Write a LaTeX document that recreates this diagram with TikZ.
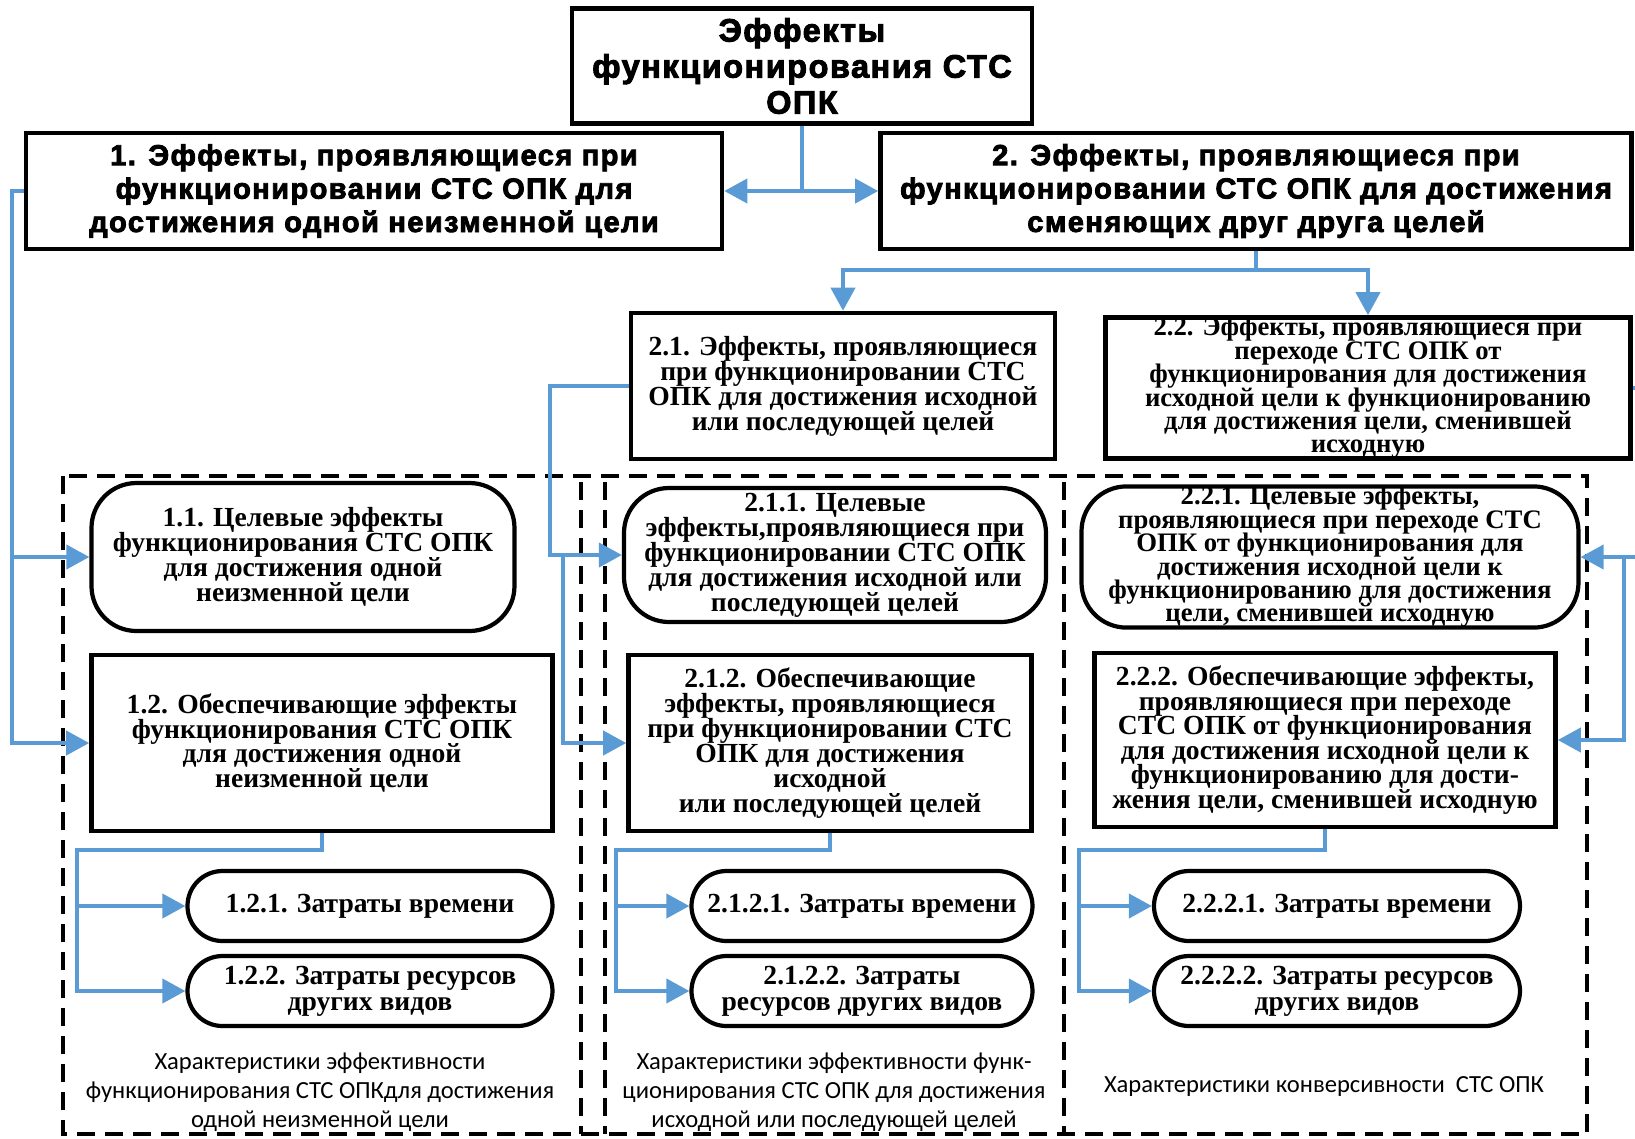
\documentclass[tikz,border=0pt]{standalone}
\usepackage{fontspec}
\setmainfont{Liberation Serif}
\newfontfamily\heavyfont{Liberation Sans}[UprightFont=* Bold, UprightFeatures={FakeBold=3}, LetterSpace=5]
\newfontfamily\capfont{Carlito}
\usepackage{tikz}
\usetikzlibrary{shapes.geometric, arrows, arrows.meta, positioning}
\definecolor{effblue}{RGB}{91,155,213}
\lineskiplimit=-50pt
\tikzstyle{headbox} = [rectangle, draw=black, fill=white, line width=2.6pt, align=center, inner sep=0pt, font=\heavyfont\fontsize{16.5}{19}\selectfont]
\tikzstyle{effbox} = [rectangle, draw=black, fill=white, line width=2.6pt, align=center, inner sep=0pt, font=\bfseries\fontsize{15.7}{14.2}\selectfont]
\tikzstyle{goalbox} = [rectangle, rounded corners=0.9cm, draw=black, fill=white, line width=2.4pt, align=center, inner sep=0pt, font=\bfseries\fontsize{15.7}{14.2}\selectfont]
\tikzstyle{costbox} = [rectangle, rounded corners=0.7cm, draw=black, fill=white, line width=2.4pt, align=center, inner sep=0pt, minimum height=1.4cm, font=\bfseries\fontsize{15.7}{14.6}\selectfont]
\tikzstyle{caption} = [align=center, inner sep=0pt, font=\capfont\fontsize{14}{16.5}\selectfont]
\tikzstyle{frame} = [line width=1.8pt, dash pattern=on 0.36cm off 0.2cm]
\tikzstyle{arrow} = [line width=2.3pt, draw=effblue, -{Triangle[length=0.46cm, width=0.48cm]}]

\begin{document}
\begin{tikzpicture}[node distance=2cm, auto]

\useasboundingbox (-16.04,1.32) rectangle (16.66,-21.44);

\node (top)     [headbox, minimum width=9.2cm, minimum height=2.3cm, font=\heavyfont\fontsize{18.4}{20.5}\selectfont] {Эффекты\\функционирования СТС\\ОПК};
\node (eff1)    [headbox, below of=top, xshift=-8.56cm, yshift=-0.5cm, minimum width=13.92cm, minimum height=2.32cm] {1. Эффекты, проявляющиеся при\\функционировании СТС ОПК для\\достижения одной неизменной цели};
\node (eff2)    [headbox, below of=top, xshift=9.08cm, yshift=-0.5cm, minimum width=15.02cm, minimum height=2.32cm] {2. Эффекты, проявляющиеся при\\функционировании СТС ОПК для достижения\\сменяющих друг друга целей};
\node (eff21)   [effbox, below of=eff2, xshift=-8.26cm, yshift=-1.9cm, minimum width=8.48cm, minimum height=2.92cm] {2.1. Эффекты, проявляющиеся\\при функционировании СТС\\ОПК для достижения исходной\\или последующей целей};
\node (eff22)   [effbox, below of=eff2, xshift=2.24cm, yshift=-1.94cm, minimum width=10.5cm, minimum height=2.82cm, font=\bfseries\fontsize{15.2}{13.3}\selectfont] {2.2. Эффекты, проявляющиеся при\\переходе СТС ОПК от\\функционирования для достижения\\исходной цели к функционированию\\для достижения цели, сменившей\\исходную};

% column 1
\node (eff11)   [goalbox, below of=eff1, xshift=-1.42cm, yshift=-5.32cm, minimum width=8.46cm, minimum height=2.96cm] {1.1. Целевые эффекты\\функционирования СТС ОПК\\для достижения одной\\неизменной цели};
\node (eff12)   [effbox, below of=eff11, xshift=0.38cm, yshift=-1.72cm, minimum width=9.22cm, minimum height=3.52cm] {1.2. Обеспечивающие эффекты\\функционирования СТС ОПК\\для достижения одной\\неизменной цели};
\node (eff121)  [costbox, below of=eff12, xshift=0.96cm, yshift=-1.26cm, minimum width=7.3cm] {1.2.1. Затраты времени};
\node (eff122)  [costbox, below of=eff121, yshift=0.3cm, minimum width=7.3cm] {1.2.2. Затраты ресурсов\\других видов};
\node (cap1)    [caption, below of=eff122, xshift=-1.0cm, yshift=-0.02cm] {Характеристики эффективности\\функционирования СТС ОПКдля достижения\\одной неизменной цели};

% column 2
\node (eff211)  [goalbox, below of=eff21, xshift=-0.16cm, yshift=-1.38cm, minimum width=8.44cm, minimum height=2.68cm] {2.1.1. Целевые\\эффекты,проявляющиеся при\\функционировании СТС ОПК\\для достижения исходной или\\последующей целей};
\node (eff212)  [effbox, below of=eff211, xshift=-0.1cm, yshift=-1.76cm, minimum width=8.06cm, minimum height=3.52cm] {2.1.2. Обеспечивающие\\эффекты, проявляющиеся\\при функционировании СТС\\ОПК для достижения\\исходной\\или последующей целей};
\node (eff2121) [costbox, below of=eff212, xshift=0.64cm, yshift=-1.26cm, minimum width=6.82cm] {2.1.2.1. Затраты времени};
\node (eff2122) [costbox, below of=eff2121, yshift=0.3cm, minimum width=6.82cm] {2.1.2.2. Затраты\\ресурсов других видов};
\node (cap2)    [caption, below of=eff2122, xshift=-0.56cm, yshift=-0.02cm] {Характеристики эффективности функ-\\ционирования СТС ОПК для достижения\\исходной или последующей целей};

% column 3
\node (eff221)  [goalbox, below of=eff22, xshift=-0.76cm, yshift=-1.38cm, minimum width=9.94cm, minimum height=2.82cm, font=\bfseries\fontsize{15.2}{13.3}\selectfont] {2.2.1. Целевые эффекты,\\проявляющиеся при переходе СТС\\ОПК от функционирования для\\достижения исходной цели к\\функционированию для достижения\\цели, сменившей исходную};
\node (eff222)  [effbox, below of=eff221, xshift=-0.1cm, yshift=-1.66cm, minimum width=9.22cm, minimum height=3.48cm, font=\bfseries\fontsize{15.7}{14}\selectfont] {2.2.2. Обеспечивающие эффекты,\\проявляющиеся при переходе\\СТС ОПК от функционирования\\для достижения исходной цели к\\функционированию для дости-\\жения цели, сменившей исходную};
\node (eff2221) [costbox, below of=eff222, xshift=0.24cm, yshift=-1.32cm, minimum width=7.32cm] {2.2.2.1. Затраты времени};
\node (eff2222) [costbox, below of=eff2221, yshift=0.3cm, minimum width=7.32cm] {2.2.2.2. Затраты ресурсов\\других видов};
\node (cap3)    [caption, below of=eff2222, xshift=-0.26cm, yshift=0.1cm] {Характеристики конверсивности\ \ СТС ОПК};

% dashed frames
\draw [frame] (-14.78,-8.2) rectangle (15.7,-21.36);
\draw [frame] (-4.42,-8.32) -- (-4.42,-21.36);
\draw [frame] (-3.94,-8.32) -- (-3.94,-21.36);
\draw [frame] (5.24,-8.32) -- (5.24,-21.36);

\draw [arrow] (top.south) |- (eff1.east);
\draw [arrow] (top.south) |- (eff2.west);
\draw [arrow] (eff2.south) -- ++(0,-0.38) -| (eff21.north);
\draw [arrow] (eff2.south) -- ++(0,-0.38) -| (eff22.north);
\draw [arrow] (eff1.west) -- ++(-0.24,0) |- (eff11.west);
\draw [arrow] (eff1.west) -- ++(-0.24,0) |- (eff12.west);
\draw [arrow] (eff21.west) -- ++(-1.58,0) |- (eff211.west);
\draw [arrow] ([xshift=-1.18cm]eff211.west) |- (eff212.west);
\draw [arrow] (eff22.east) -- ++(0.5,0) |- (eff221.east);
\draw [arrow] ([xshift=0.86cm]eff221.east) |- (eff222.east);
\draw [arrow] (eff12.south) -- ++(0,-0.34) -| ([xshift=-2.16cm]eff121.west) -- (eff121.west);
\draw [arrow] ([xshift=-2.16cm]eff121.west) |- (eff122.west);
\draw [arrow] (eff212.south) -- ++(0,-0.34) -| ([xshift=-1.46cm]eff2121.west) -- (eff2121.west);
\draw [arrow] ([xshift=-1.46cm]eff2121.west) |- (eff2122.west);
\draw [arrow] (eff222.south) -- ++(0,-0.42) -| ([xshift=-1.46cm]eff2221.west) -- (eff2221.west);
\draw [arrow] ([xshift=-1.46cm]eff2221.west) |- (eff2222.west);

\end{tikzpicture}
\end{document}
